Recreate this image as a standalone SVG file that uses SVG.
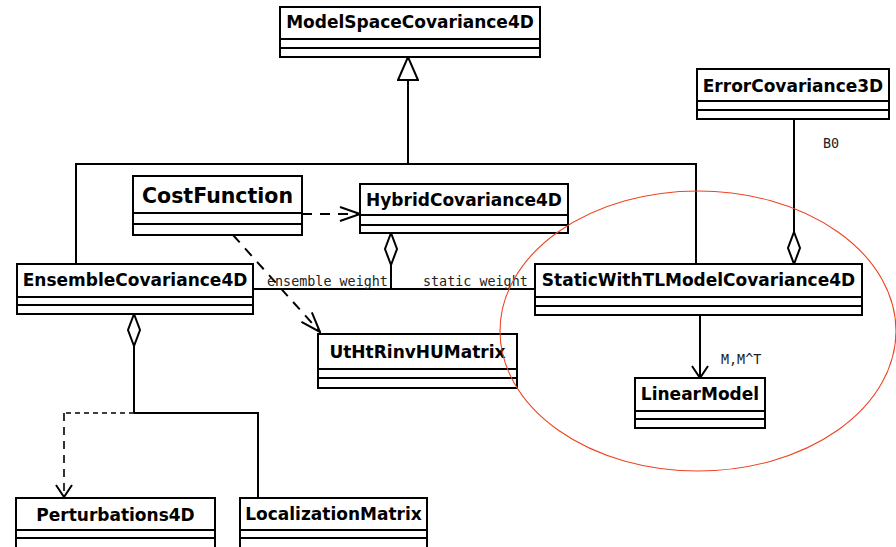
<svg xmlns="http://www.w3.org/2000/svg" width="896" height="547" viewBox="0 0 896 547">
<style>
.box{fill:#fff;stroke:#000;stroke-width:2}
.sep{stroke:#000;stroke-width:2}
.name{font-family:"DejaVu Sans",sans-serif;font-weight:bold;font-size:17px;text-anchor:middle;fill:#000}
.big{font-size:20.5px}
.lbl{font-family:"DejaVu Sans Mono",monospace;font-size:13.4px;fill:#222}
.ln{fill:none;stroke:#000;stroke-width:2}
.dash{stroke-dasharray:10 8}
.dot{stroke-dasharray:5 4;stroke-width:1.6}
.dash2{stroke-dasharray:8 6;stroke-width:1.6}
</style>
<defs>
<marker id="open" viewBox="0 0 22 16" refX="21" refY="8" markerWidth="22" markerHeight="16" markerUnits="userSpaceOnUse" orient="auto">
<path d="M1,1 L21,8 L1,15" fill="none" stroke="#000" stroke-width="2"/>
</marker>
<marker id="openS" viewBox="0 0 14 18" refX="13" refY="9" markerWidth="14" markerHeight="18" markerUnits="userSpaceOnUse" orient="auto">
<path d="M1,1 L13,9 L1,17" fill="none" stroke="#000" stroke-width="2"/>
</marker>
<marker id="diamond" viewBox="-1 -1 34 14" refX="32" refY="6" markerWidth="34" markerHeight="14" markerUnits="userSpaceOnUse" orient="auto">
<path d="M0,6 L16,0 L32,6 L16,12 Z" fill="#fff" stroke="#000" stroke-width="2"/>
</marker>
<marker id="tri" viewBox="-1 -1 25 22" refX="23" refY="10" markerWidth="25" markerHeight="22" markerUnits="userSpaceOnUse" orient="auto">
<path d="M0,0 L23,10 L0,20 Z" fill="#fff" stroke="#000" stroke-width="2"/>
</marker>
</defs>

<g id="connectors">
<path class="ln" d="M408,164 L408,57" marker-end="url(#tri)"/>
<path class="ln" d="M76,264 L76,164 L696,164 L696,264"/>
<path class="ln dash" d="M302,214 L360,214" marker-end="url(#open)"/>
<path class="ln dash" d="M233,235 L320,332" marker-end="url(#open)"/>
<path class="ln" d="M253,289 L535,289"/>
<path class="ln" d="M391,289 L391,233" marker-end="url(#diamond)"/>
<path class="ln" d="M794,119 L794,264" marker-end="url(#diamond)"/>
<path class="ln" d="M700,315 L700,378" marker-end="url(#openS)"/>
<path class="ln" d="M134,413 L134,314" marker-end="url(#diamond)"/>
<path class="ln" d="M134,413 L258,413 L258,498"/>
<path class="ln dot" d="M134,413 L64,413"/>
<path class="ln dash2" d="M64,413 L64,497" marker-end="url(#openS)"/>
<text class="lbl" x="267" y="286">ensemble weight</text>
<text class="lbl" x="423" y="286">static weight</text>
<text class="lbl" x="823" y="148">B0</text>
<text class="lbl" x="721" y="364">M,M^T</text>
</g>

<g id="ModelSpaceCovariance4D">
<rect class="box" x="280" y="7" width="260" height="50"/>
<line class="sep" x1="280" y1="39" x2="540" y2="39"/>
<line class="sep" x1="280" y1="48" x2="540" y2="48"/>
<text class="name" x="410" y="28">ModelSpaceCovariance4D</text>
</g>

<g id="ErrorCovariance3D">
<rect class="box" x="697" y="69" width="192" height="50"/>
<line class="sep" x1="697" y1="101" x2="889" y2="101"/>
<line class="sep" x1="697" y1="110" x2="889" y2="110"/>
<text class="name" x="793" y="92">ErrorCovariance3D</text>
</g>

<g id="CostFunction">
<rect class="box" x="133" y="176" width="169" height="59"/>
<line class="sep" x1="133" y1="213" x2="302" y2="213"/>
<line class="sep" x1="133" y1="224" x2="302" y2="224"/>
<text class="name big" x="217.5" y="203">CostFunction</text>
</g>

<g id="HybridCovariance4D">
<rect class="box" x="360" y="184" width="208" height="49"/>
<line class="sep" x1="360" y1="215" x2="568" y2="215"/>
<line class="sep" x1="360" y1="225" x2="568" y2="225"/>
<text class="name" x="464" y="206">HybridCovariance4D</text>
</g>

<g id="EnsembleCovariance4D">
<rect class="box" x="17" y="264" width="236" height="50"/>
<line class="sep" x1="17" y1="297" x2="253" y2="297"/>
<line class="sep" x1="17" y1="305" x2="253" y2="305"/>
<text class="name" x="135" y="286">EnsembleCovariance4D</text>
</g>

<g id="StaticWithTLModelCovariance4D">
<rect class="box" x="535" y="264" width="327" height="51"/>
<line class="sep" x1="535" y1="297" x2="862" y2="297"/>
<line class="sep" x1="535" y1="306" x2="862" y2="306"/>
<text class="name" x="698.5" y="286">StaticWithTLModelCovariance4D</text>
</g>

<g id="UtHtRinvHUMatrix">
<rect class="box" x="318" y="334" width="199" height="54"/>
<line class="sep" x1="318" y1="369" x2="517" y2="369"/>
<line class="sep" x1="318" y1="378" x2="517" y2="378"/>
<text class="name" x="417.5" y="358">UtHtRinvHUMatrix</text>
</g>

<g id="LinearModel">
<rect class="box" x="635" y="378" width="130" height="50"/>
<line class="sep" x1="635" y1="411" x2="765" y2="411"/>
<line class="sep" x1="635" y1="419" x2="765" y2="419"/>
<text class="name" x="700" y="400">LinearModel</text>
</g>

<g id="Perturbations4D">
<rect class="box" x="16" y="498" width="199" height="60"/>
<line class="sep" x1="16" y1="530" x2="215" y2="530"/>
<line class="sep" x1="16" y1="538" x2="215" y2="538"/>
<text class="name" x="115.5" y="521">Perturbations4D</text>
</g>

<g id="LocalizationMatrix">
<rect class="box" x="240" y="498" width="187" height="60"/>
<line class="sep" x1="240" y1="530" x2="427" y2="530"/>
<line class="sep" x1="240" y1="538" x2="427" y2="538"/>
<text class="name" x="333.5" y="520">LocalizationMatrix</text>
</g>

<ellipse cx="698" cy="331" rx="198" ry="140" fill="none" stroke="#ee4422" stroke-width="1.1"/>
</svg>
